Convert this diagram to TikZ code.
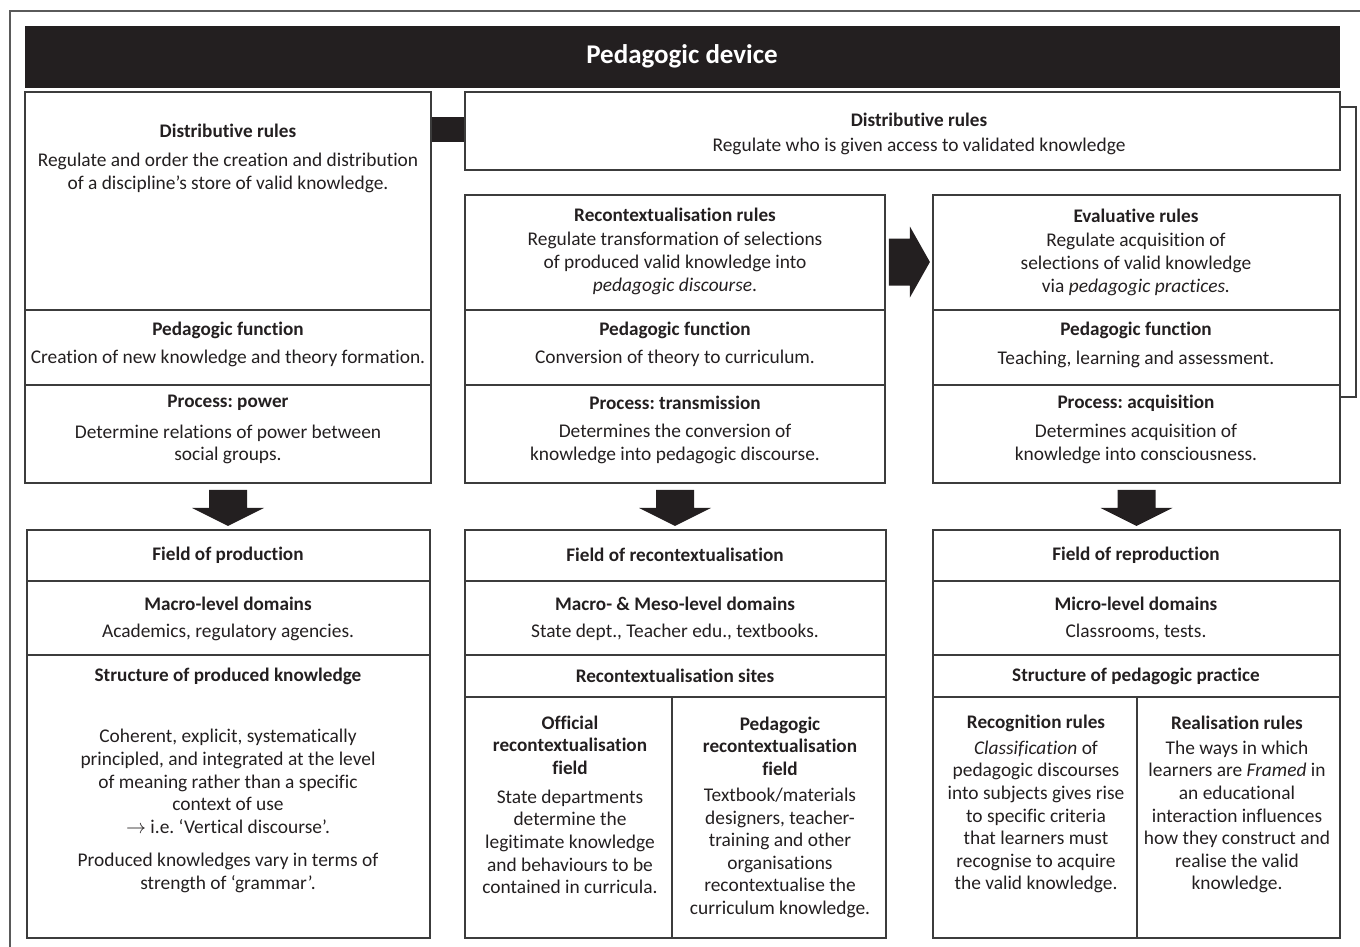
\documentclass[tikz,border=0pt]{standalone}
\usepackage{fontspec}
\setmainfont{Carlito}[Ligatures={TeX,NoCommon}]
\usepackage{tikz}
\usetikzlibrary{positioning}
\usetikzlibrary{calc,fit}
\definecolor{ink}{HTML}{231F20}
\definecolor{edge}{HTML}{3C3C3C}
\definecolor{framegray}{HTML}{5A5A5A}
\frenchspacing
\tikzset{
  cell/.style={draw=edge, line width=0.9pt, inner sep=0pt},
  hd/.style={font=\fontsize{9.6}{11.3}\selectfont\bfseries, text=ink, align=center, inner sep=0pt},
  bd/.style={font=\fontsize{9.7}{11.3}\selectfont, text=ink, align=center, inner sep=0pt},
  downarr/.pic={\fill[ink] (-19,0) -- (19,0) -- (19,18) -- (36,18) -- (0,36) -- (-36,18) -- (-19,18) -- cycle;},
  rightarr/.pic={\fill[ink] (0,-23.5) -- (21,-23.5) -- (21,-35.5) -- (41,0) -- (21,35.5) -- (21,23.5) -- (0,23.5) -- cycle;}
}

\begin{document}
\begin{tikzpicture}[x=0.5pt, y=-0.5pt]
        \useasboundingbox (0,0) rectangle (1360,947);
        % outer frame
        \draw[framegray, line width=0.7pt] (1360,11) -- (10,11) -- (10,947);

        % title bar
        \node[fill=ink, inner sep=0pt, fit={(25,26) (1340,88)}] (title) {};
        \node[font=\fontsize{13.5}{16}\selectfont\bfseries, text=white] at (682,56) {Pedagogic device};

        % top row boxes
        \node[cell, fit={(25,92) (431,310)}] (ldist) {};
        \node[cell, fit={(25,310) (431,385)}] (lfunc) {};
        \node[cell, fit={(25,385) (431,483)}] (lproc) {};
        \node[cell, fit={(465,92) (1340,170)}] (rdist) {};
        \node[cell, fit={(465,195) (885,310)}] (mrule) {};
        \node[cell, fit={(465,310) (885,385)}] (mfunc) {};
        \node[cell, fit={(465,385) (885,483)}] (mproc) {};
        \node[cell, fit={(933,195) (1340,310)}] (rrule) {};
        \node[cell, fit={(933,310) (1340,385)}] (rfunc) {};
        \node[cell, fit={(933,385) (1340,483)}] (rproc) {};

        % bottom row boxes
        \node[cell, fit={(27,530) (430,581)}] (lfield) {};
        \node[cell, fit={(27,581) (430,655)}] (ldom) {};
        \node[cell, fit={(27,655) (430,938)}] (lstruct) {};
        \node[cell, fit={(465,530) (886,581)}] (mfield) {};
        \node[cell, fit={(465,581) (886,655)}] (mdom) {};
        \node[cell, fit={(465,655) (886,697)}] (msites) {};
        \node[cell, fit={(465,697) (672,938)}] (moff) {};
        \node[cell, fit={(672,697) (886,938)}] (mped) {};
        \node[cell, fit={(933,530) (1340,581)}] (rfield) {};
        \node[cell, fit={(933,581) (1340,655)}] (rdom) {};
        \node[cell, fit={(933,655) (1340,697)}] (rstruct) {};
        \node[cell, fit={(933,697) (1137,938)}] (rrec) {};
        \node[cell, fit={(1137,697) (1340,938)}] (rrea) {};

        % connectors
        \fill[ink] ($(ldist.north east)+(0,26)$) rectangle ($(rdist.north west)+(0,51)$);
        \draw[edge, line width=0.8pt] ($(rdist.north east)+(0,16)$) -- ++(15,0) |- ($(rproc.north east)+(0,13)$);
        \pic at ($(mrule.east)+(3,9.5)$) {rightarr};
        \pic at ($(lproc.south)+(0,6)$) {downarr};
        \pic at ($(mproc.south)+(0,6)$) {downarr};
        \pic at ($(rproc.south)+(0,6)$) {downarr};

        % left column text
        \node[hd] (ldistH) at (228,131) {Distributive rules};
        \node[bd] (ldistT) at (228,173) {Regulate and order the creation and distribution\\of a discipline's store of valid knowledge.};
        \node[hd] (lfuncH) at (228,330) {Pedagogic function};
        \node[bd] (lfuncT) at (228,358) {Creation of new knowledge and theory formation.};
        \node[hd] (lprocH) at (228,403) {Process: power};
        \node[bd] (lprocT) at (228,444.5) {Determine relations of power between\\social groups.};

        % distributive rules across
        \node[hd] (rdistH) at (919,120) {Distributive rules};
        \node[bd] (rdistT) at (919,146) {Regulate who is given access to validated knowledge};

        % middle column text
        \node[hd] (mruleH) at (675,215) {Recontextualisation rules};
        \node[bd] (mruleT) at (675,263.5) {Regulate transformation of selections\\of produced valid knowledge into\\\textit{pedagogic discourse}.};
        \node[hd] (mfuncH) at (675,330) {Pedagogic function};
        \node[bd] (mfuncT) at (675,358) {Conversion of theory to curriculum.};
        \node[hd] (mprocH) at (675,403) {Process: transmission};
        \node[bd] (mprocT) at (675,444) {Determines the conversion of\\knowledge into pedagogic discourse.};

        % right column text
        \node[hd] (rruleH) at (1136,216) {Evaluative rules};
        \node[bd] (rruleT) at (1136,264.5) {Regulate acquisition of\\selections of valid knowledge\\via \textit{pedagogic practices.}};
        \node[hd] (rfuncH) at (1136,330) {Pedagogic function};
        \node[bd] (rfuncT) at (1136,359) {Teaching, learning and assessment.};
        \node[hd] (rprocH) at (1136,403) {Process: acquisition};
        \node[bd] (rprocT) at (1136,444) {Determines acquisition of\\knowledge into consciousness.};

        % field of production
        \node[hd] (lfieldH) at (228,555) {Field of production};
        \node[hd] (ldomH) at (228,604) {Macro-level domains};
        \node[bd] (ldomT) at (228,632) {Academics, regulatory agencies.};
        \node[hd] (lstructH) at (228,676) {Structure of produced knowledge};
        \node[bd] (lstructT) at (228,781.5) {Coherent, explicit, systematically\\principled, and integrated at the level\\of meaning rather than a specific\\context of use\\$\rightarrow$ i.e. `Vertical discourse'.};
        \node[bd] (lstructU) at (228,873) {Produced knowledges vary in terms of\\strength of `grammar'.};

        % field of recontextualisation
        \node[hd] (mfieldH) at (675,555) {Field of recontextualisation};
        \node[hd] (mdomH) at (675,604) {Macro- \& Meso-level domains};
        \node[bd] (mdomT) at (675,632) {State dept., Teacher edu., textbooks.};
        \node[hd] (msitesH) at (675,676) {Recontextualisation sites};
        \node[hd] (moffH) at (570,745.3) {Official\\recontextualisation\\field};
        \node[bd] (moffT) at (570,841.8) {State departments\\determine the\\legitimate knowledge\\and behaviours to be\\contained in curricula.};
        \node[hd] (mpedH) at (780,746) {Pedagogic\\recontextualisation\\field};
        \node[bd] (mpedT) at (780,853) {Textbook/materials\\designers, teacher-\\training and other\\organisations\\recontextualise the\\curriculum knowledge.};

        % field of reproduction
        \node[hd] (rfieldH) at (1136,555) {Field of reproduction};
        \node[hd] (rdomH) at (1136,604) {Micro-level domains};
        \node[bd] (rdomT) at (1136,632) {Classrooms, tests.};
        \node[hd] (rstructH) at (1136,676) {Structure of pedagogic practice};
        \node[hd] (rrecH) at (1036,723) {Recognition rules};
        \node[bd] (rrecT) at (1036,817) {\textit{Classification} of\\pedagogic discourses\\into subjects gives rise\\to specific criteria\\that learners must\\recognise to acquire\\the valid knowledge.};
        \node[hd] (rreaH) at (1237,723) {Realisation rules};
        \node[bd] (rreaT) at (1237,817) {The ways in which\\learners are \textit{Framed} in\\an educational\\interaction influences\\how they construct and\\realise the valid\\knowledge.};
    \end{tikzpicture}
\end{document}
